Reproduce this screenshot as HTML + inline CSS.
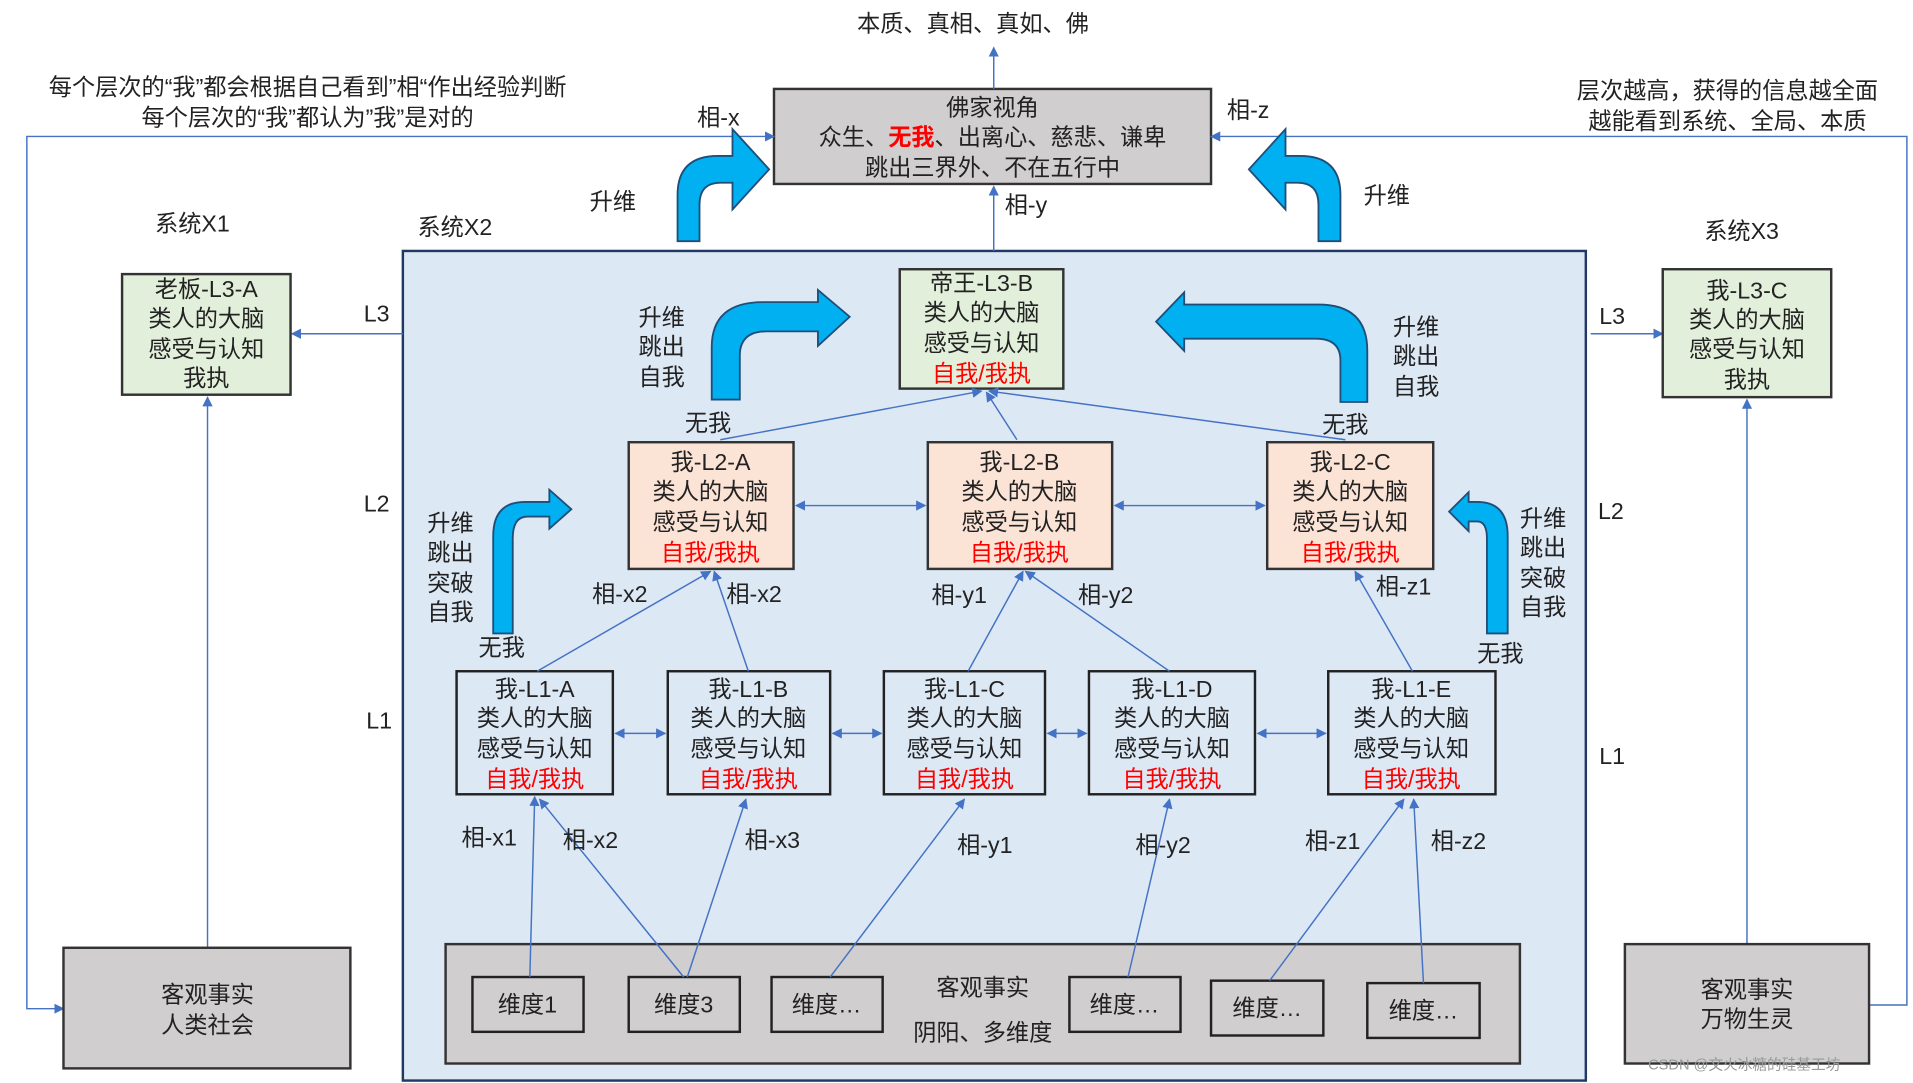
<!DOCTYPE html>
<html><head><meta charset="utf-8"><style>
html,body{margin:0;padding:0;background:#fff;}
svg{display:block;}
text{font-family:"Liberation Sans","Noto Sans CJK SC",sans-serif;font-size:19px;fill:#222;}
.c{text-anchor:middle;}
.r{fill:#f00;}
.ln{stroke:#4472c4;stroke-width:1.2;fill:none;}
.ar{fill:#00b0f0;stroke:#1f4e79;stroke-width:1.5;}
</style></head><body>
<svg width="1913" height="1083" viewBox="0 0 1567 889" preserveAspectRatio="none" xmlns="http://www.w3.org/2000/svg">
<defs>
<marker id="m" viewBox="0 0 10 10" refX="9" refY="5" markerWidth="7" markerHeight="7" orient="auto-start-reverse"><path d="M0,0 L10,5 L0,10 z" fill="#4472c4"/></marker>
</defs>
<!-- big system box -->
<rect x="330" y="206" width="969" height="681" fill="#dde8f5" stroke="#1f3864" stroke-width="2"/>
<!-- top -->
<text x="797" y="26" class="c">本质、真相、真如、佛</text>
<rect x="634" y="73" width="358" height="78" fill="#d0cece" stroke="#333" stroke-width="2"/>
<text x="813" y="95" class="c">佛家视角</text>
<text x="813" y="119" class="c">众生、<tspan class="r" style="font-weight:bold">无我</tspan>、出离心、慈悲、谦卑</text>
<text x="813" y="144" class="c">跳出三界外、不在五行中</text>
<text x="252" y="78" class="c">每个层次的“我”都会根据自己看到”相“作出经验判断</text>
<text x="252" y="103" class="c">每个层次的“我”都认为”我”是对的</text>
<text x="1415" y="81" class="c">层次越高，获得的信息越全面</text>
<text x="1415" y="106" class="c">越能看到系统、全局、本质</text>
<text x="571" y="103">相-x</text>
<text x="1005" y="97">相-z</text>
<text x="823" y="175">相-y</text>
<text x="483" y="172">升维</text>
<text x="1117" y="167">升维</text>
<text x="127" y="190">系统X1</text>
<text x="342" y="193">系统X2</text>
<text x="1396" y="196">系统X3</text>
<!-- loop lines -->
<polyline class="ln" points="52,828 22,828 22,112 634,112" marker-end="url(#m)" marker-start="url(#m)"/>
<polyline class="ln" points="1531,825 1562,825 1562,112 992,112" marker-end="url(#m)"/>
<line class="ln" x1="814" y1="206" x2="814" y2="153" marker-end="url(#m)"/>
<line class="ln" x1="814" y1="73" x2="814" y2="39" marker-end="url(#m)"/>
<line class="ln" x1="170" y1="778" x2="170" y2="326" marker-end="url(#m)"/>
<line class="ln" x1="1431" y1="775" x2="1431" y2="328" marker-end="url(#m)"/>
<line class="ln" x1="330" y1="274" x2="239" y2="274" marker-end="url(#m)"/>
<line class="ln" x1="1303" y1="274" x2="1362" y2="274" marker-end="url(#m)"/>
<!-- side boxes -->
<rect x="100" y="225" width="138" height="99" fill="#e2efda" stroke="#333" stroke-width="2"/>
<text x="169" y="244" class="c">老板-L3-A</text><text x="169" y="268" class="c">类人的大脑</text><text x="169" y="293" class="c">感受与认知</text><text x="169" y="317" class="c">我执</text>
<rect x="1362" y="221" width="138" height="105" fill="#e2efda" stroke="#333" stroke-width="2"/>
<text x="1431" y="245" class="c">我-L3-C</text><text x="1431" y="269" class="c">类人的大脑</text><text x="1431" y="293" class="c">感受与认知</text><text x="1431" y="318" class="c">我执</text>
<rect x="52" y="778" width="235" height="99" fill="#d0cece" stroke="#333" stroke-width="2"/>
<text x="170" y="823" class="c">客观事实</text><text x="170" y="848" class="c">人类社会</text>
<rect x="1331" y="775" width="200" height="98" fill="#d0cece" stroke="#333" stroke-width="2"/>
<text x="1431" y="819" class="c">客观事实</text><text x="1431" y="843" class="c">万物生灵</text>
<text x="298" y="264">L3</text><text x="298" y="420">L2</text><text x="300" y="598">L1</text>
<text x="1310" y="266">L3</text><text x="1309" y="426">L2</text><text x="1310" y="627">L1</text>
<!-- L3-B -->
<rect x="737" y="221" width="134" height="98" fill="#e2efda" stroke="#333" stroke-width="2"/>
<text x="804" y="239" class="c">帝王-L3-B</text><text x="804" y="263" class="c">类人的大脑</text><text x="804" y="288" class="c">感受与认知</text><text x="804" y="313" class="c r">自我/我执</text>
<!-- L2 -->
<g stroke="#333" stroke-width="2" fill="#fbe3d6">
<rect x="515" y="363" width="135" height="104"/><rect x="760" y="363" width="151" height="104"/><rect x="1038" y="363" width="136" height="104"/>
</g>
<text x="582" y="386" class="c">我-L2-A</text><text x="582" y="410" class="c">类人的大脑</text><text x="582" y="435" class="c">感受与认知</text><text x="582" y="460" class="c r">自我/我执</text>
<text x="835" y="386" class="c">我-L2-B</text><text x="835" y="410" class="c">类人的大脑</text><text x="835" y="435" class="c">感受与认知</text><text x="835" y="460" class="c r">自我/我执</text>
<text x="1106" y="386" class="c">我-L2-C</text><text x="1106" y="410" class="c">类人的大脑</text><text x="1106" y="435" class="c">感受与认知</text><text x="1106" y="460" class="c r">自我/我执</text>
<!-- L1 -->
<g stroke="#222" stroke-width="2" fill="none">
<rect x="374" y="551" width="128" height="101"/><rect x="547" y="551" width="133" height="101"/><rect x="724" y="551" width="132" height="101"/><rect x="892" y="551" width="136" height="101"/><rect x="1088" y="551" width="137" height="101"/>
</g>
<g>
<text x="438" y="572" class="c">我-L1-A</text><text x="438" y="596" class="c">类人的大脑</text><text x="438" y="621" class="c">感受与认知</text><text x="438" y="646" class="c r">自我/我执</text>
<text x="613" y="572" class="c">我-L1-B</text><text x="613" y="596" class="c">类人的大脑</text><text x="613" y="621" class="c">感受与认知</text><text x="613" y="646" class="c r">自我/我执</text>
<text x="790" y="572" class="c">我-L1-C</text><text x="790" y="596" class="c">类人的大脑</text><text x="790" y="621" class="c">感受与认知</text><text x="790" y="646" class="c r">自我/我执</text>
<text x="960" y="572" class="c">我-L1-D</text><text x="960" y="596" class="c">类人的大脑</text><text x="960" y="621" class="c">感受与认知</text><text x="960" y="646" class="c r">自我/我执</text>
<text x="1156" y="572" class="c">我-L1-E</text><text x="1156" y="596" class="c">类人的大脑</text><text x="1156" y="621" class="c">感受与认知</text><text x="1156" y="646" class="c r">自我/我执</text>
</g>
<!-- bottom -->
<rect x="365" y="775" width="880" height="98" fill="#d0cece" stroke="#333" stroke-width="2"/>
<g stroke="#222" stroke-width="2" fill="none">
<rect x="387" y="802" width="91" height="45"/><rect x="515" y="802" width="91" height="45"/><rect x="632" y="802" width="91" height="45"/><rect x="876" y="802" width="91" height="45"/><rect x="992" y="805" width="92" height="45"/><rect x="1120" y="807" width="92" height="45"/>
</g>
<text x="432" y="831" class="c">维度1</text><text x="560" y="831" class="c">维度3</text><text x="677" y="831" class="c">维度…</text><text x="921" y="831" class="c">维度…</text><text x="1038" y="834" class="c">维度…</text><text x="1166" y="836" class="c">维度…</text>
<text x="805" y="817" class="c">客观事实</text><text x="805" y="854" class="c">阴阳、多维度</text>
<!-- connectors -->
<g class="ln">
<line x1="590" y1="361" x2="804" y2="321" marker-end="url(#m)"/>
<line x1="833" y1="361" x2="808" y2="322" marker-end="url(#m)"/>
<line x1="1102" y1="361" x2="810" y2="321" marker-end="url(#m)"/>
<line x1="652" y1="415" x2="758" y2="415" marker-end="url(#m)" marker-start="url(#m)"/>
<line x1="913" y1="415" x2="1036" y2="415" marker-end="url(#m)" marker-start="url(#m)"/>
<line x1="504" y1="602" x2="545" y2="602" marker-end="url(#m)" marker-start="url(#m)"/>
<line x1="682" y1="602" x2="722" y2="602" marker-end="url(#m)" marker-start="url(#m)"/>
<line x1="858" y1="602" x2="890" y2="602" marker-end="url(#m)" marker-start="url(#m)"/>
<line x1="1030" y1="602" x2="1086" y2="602" marker-end="url(#m)" marker-start="url(#m)"/>
<line x1="440" y1="551" x2="582" y2="469" marker-end="url(#m)"/>
<line x1="613" y1="551" x2="585" y2="469" marker-end="url(#m)"/>
<line x1="793" y1="551" x2="838" y2="469" marker-end="url(#m)"/>
<line x1="958" y1="551" x2="840" y2="469" marker-end="url(#m)"/>
<line x1="1157" y1="551" x2="1110" y2="469" marker-end="url(#m)"/>
<line x1="434" y1="802" x2="438" y2="654" marker-end="url(#m)"/>
<line x1="560" y1="802" x2="442" y2="656" marker-end="url(#m)"/>
<line x1="563" y1="802" x2="611" y2="656" marker-end="url(#m)"/>
<line x1="680" y1="802" x2="790" y2="656" marker-end="url(#m)"/>
<line x1="924" y1="802" x2="958" y2="656" marker-end="url(#m)"/>
<line x1="1040" y1="805" x2="1150" y2="656" marker-end="url(#m)"/>
<line x1="1166" y1="807" x2="1158" y2="656" marker-end="url(#m)"/>
</g>
<!-- connector labels -->
<text x="485" y="494">相-x2</text><text x="595" y="494">相-x2</text><text x="763" y="495">相-y1</text><text x="883" y="495">相-y2</text><text x="1127" y="488">相-z1</text>
<text x="378" y="694">相-x1</text><text x="461" y="696">相-x2</text><text x="610" y="696">相-x3</text><text x="784" y="700">相-y1</text><text x="930" y="700">相-y2</text><text x="1069" y="697">相-z1</text><text x="1172" y="697">相-z2</text>
<text x="561" y="354">无我</text><text x="1083" y="355">无我</text><text x="392" y="538">无我</text><text x="1210" y="543">无我</text>
<text x="523" y="267">升维</text><text x="523" y="291">跳出</text><text x="523" y="316">自我</text>
<text x="1141" y="275">升维</text><text x="1141" y="299">跳出</text><text x="1141" y="324">自我</text>
<text x="350" y="436">升维</text><text x="350" y="460">跳出</text><text x="350" y="485">突破</text><text x="350" y="509">自我</text>
<text x="1245" y="432">升维</text><text x="1245" y="456">跳出</text><text x="1245" y="481">突破</text><text x="1245" y="505">自我</text>
<!-- blue curved arrows -->
<path class="ar" d="M555,198 L555,160 Q555,128 588,128 L600,128 L600,106 L630,139 L600,172 L600,150 L590,150 Q573,150 573,168 L573,198 Z"/>
<path class="ar" d="M1098,198 L1098,160 Q1098,128 1065,128 L1053,128 L1053,106 L1023,139 L1053,172 L1053,150 L1063,150 Q1080,150 1080,168 L1080,198 Z"/>
<path class="ar" d="M583,328 L583,285 Q583,248 625,248 L670,248 L670,238 L696,260 L670,284 L670,272 L628,272 Q606,272 606,292 L606,328 Z"/>
<path class="ar" d="M1120,330 L1120,288 Q1120,250 1080,250 L970,250 L970,240 L947,264 L970,288 L970,278 L1078,278 Q1098,278 1098,296 L1098,330 Z"/>
<path class="ar" d="M404,520 L404,440 Q404,412 430,412 L450,412 L450,402 L468,418 L450,434 L450,424 L432,424 Q420,424 420,442 L420,520 Z"/>
<path class="ar" d="M1235,520 L1235,440 Q1235,412 1210,412 L1203,412 L1203,404 L1187,420 L1203,436 L1203,428 L1210,428 Q1218,428 1218,442 L1218,520 Z"/>
<text x="1350" y="878" style="font-size:12px;fill:#999">CSDN @文火冰糖的硅基工坊</text>
</svg>
</body></html>
